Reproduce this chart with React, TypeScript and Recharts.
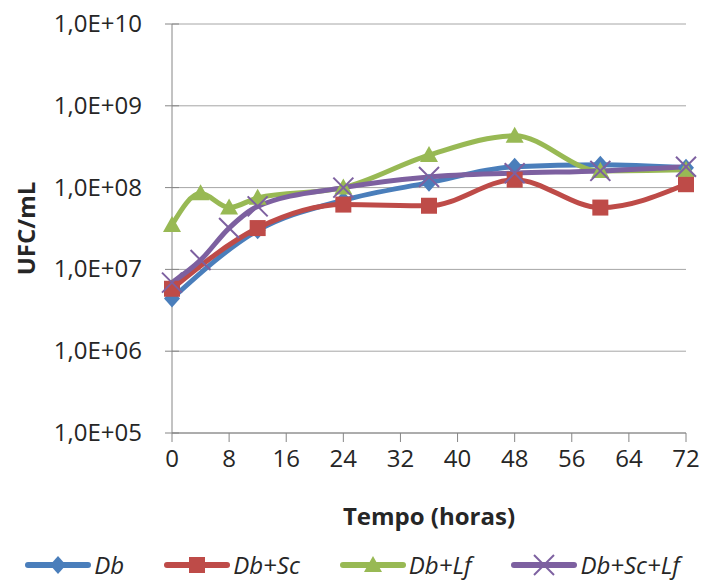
import { CartesianGrid, Label, Legend, Line, LineChart, XAxis, YAxis } from "recharts";

// sampling times (hours)
const hoursMain = [0, 12, 24, 36, 48, 60, 72];
const hoursFine = [0, 4, 8, 12, 24, 36, 48, 60, 72];

// UFC/mL per series
const dbValues = [4.4e6, 3.0e7, 7.0e7, 1.15e8, 1.8e8, 1.9e8, 1.75e8];
const dbScValues = [5.8e6, 3.2e7, 6.2e7, 6.0e7, 1.25e8, 5.7e7, 1.1e8];
const dbLfValues = [3.5e7, 8.5e7, 5.7e7, 7.5e7, 1.0e8, 2.5e8, 4.3e8, 1.6e8, 1.65e8];
const dbScLfValues = [6.9e6, 1.3e7, 3.2e7, 5.9e7, 1.0e8, 1.35e8, 1.5e8, 1.6e8, 1.8e8];

const xTicks = [0, 8, 16, 24, 32, 40, 48, 56, 64, 72];
const yTicks = [1e5, 1e6, 1e7, 1e8, 1e9, 1e10];

const FONT = "'Open Sans', sans-serif";
const TEXT = "#262626";

const series = [
	{ name: "Db", color: "#4a7ebb", shape: "diamond", data: hoursMain.map((h, i) => ({ h, v: dbValues[i] })) },
	{ name: "Db+Sc", color: "#be4b48", shape: "square", data: hoursMain.map((h, i) => ({ h, v: dbScValues[i] })) },
	{ name: "Db+Lf", color: "#98b954", shape: "triangle", data: hoursFine.map((h, i) => ({ h, v: dbLfValues[i] })) },
	{ name: "Db+Sc+Lf", color: "#7d60a0", shape: "x", data: hoursFine.map((h, i) => ({ h, v: dbScLfValues[i] })) },
];

const Marker = (props: {shape: string, color: string, cx: number, cy: number}) => {
	const {shape, color, cx, cy} = props;
	if (shape === "diamond")
		return <path d={`M${cx},${cy - 9}L${cx + 8},${cy}L${cx},${cy + 9}L${cx - 8},${cy}Z`} fill={color} />;
	if (shape === "square")
		return <rect x={cx - 8} y={cy - 8} width={16} height={16} fill={color} />;
	if (shape === "triangle")
		return <path d={`M${cx},${cy - 9}L${cx + 9},${cy + 7}L${cx - 9},${cy + 7}Z`} fill={color} />;
	return (
		<g stroke={color} strokeWidth={2}>
			<line x1={cx - 10} y1={cy - 10} x2={cx + 10} y2={cy + 10} />
			<line x1={cx - 10} y1={cy + 10} x2={cx + 10} y2={cy - 10} />
		</g>
	);
};

const expLabel = (v: number) => {
	const e = Math.round(Math.log10(v));
	return "1,0E+" + String(e).padStart(2, "0");
};

const YTick = (props: any) => {
	const {x, y, payload} = props;
	const axisX = x + 7 + 23;
	return (
		<g>
			<line x1={axisX} x2={axisX + 7} y1={y} y2={y} stroke="#868686" />
			<text x={x} y={y} dy={8} textAnchor="end" fill={TEXT} fontSize={24} fontFamily={FONT}>{expLabel(payload.value)}</text>
		</g>
	);
};

const LegendContent = () => (
	<div style={{display: "flex", justifyContent: "center", gap: 40, fontFamily: FONT, fontStyle: "italic", fontSize: 24, color: TEXT}}>
		{series.map(s => (
			<div key={s.name} style={{display: "flex", alignItems: "center", gap: 3}}>
				<svg width={66} height={22}>
					<line x1={3} x2={63} y1={11} y2={11} stroke={s.color} strokeWidth={6} strokeLinecap="round" />
					<Marker shape={s.shape} color={s.color} cx={33} cy={11} />
				</svg>
				<span>{s.name}</span>
			</div>
		))}
	</div>
);

export default function App() {
	return (
		<div style={{position: "absolute", left: 0, top: 0, background: "#fff"}}>
			<LineChart width={705} height={581} margin={{top: 24, right: 19, left: 0, bottom: 56}}>
				<CartesianGrid vertical={false} stroke="#a6a6a6" />
				<XAxis
					dataKey="h"
					type="number"
					domain={[0, 72]}
					ticks={xTicks}
					height={92}
					tickSize={9}
					tickMargin={8}
					stroke="#868686"
					tick={{fill: TEXT, fontSize: 24, fontFamily: FONT}}
					allowDuplicatedCategory={false}
				>
					<Label value="Tempo (horas)" position="insideBottom" offset={0} fill={TEXT} fontSize={24} fontWeight="bold" fontFamily={FONT} />
				</XAxis>
				<YAxis
					dataKey="v"
					scale="log"
					domain={[1e5, 1e10]}
					ticks={yTicks}
					allowDataOverflow
					width={172}
					tickSize={7}
					tickMargin={23}
					stroke="#868686"
					tick={<YTick />}
				>
					<Label value="UFC/mL" angle={-90} position="insideLeft" offset={26} fill={TEXT} fontSize={24} fontWeight="bold" fontFamily={FONT} style={{textAnchor: "middle"}} />
				</YAxis>
				<Legend
					layout="horizontal"
					verticalAlign="middle"
					align="center"
					content={<LegendContent />}
					wrapperStyle={{top: 548, left: 0, width: 705}}
				/>
				{series.map(s => (
					<Line
						key={s.name}
						data={s.data}
						dataKey="v"
						name={s.name}
						type="monotone"
						stroke={s.color}
						strokeWidth={5}
						isAnimationActive={false}
						dot={(p: any) => <Marker key={`${s.name}-${p.index}`} shape={s.shape} color={s.color} cx={p.cx} cy={p.cy} />}
						activeDot={false}
					/>
				))}
			</LineChart>
		</div>
	);
}
